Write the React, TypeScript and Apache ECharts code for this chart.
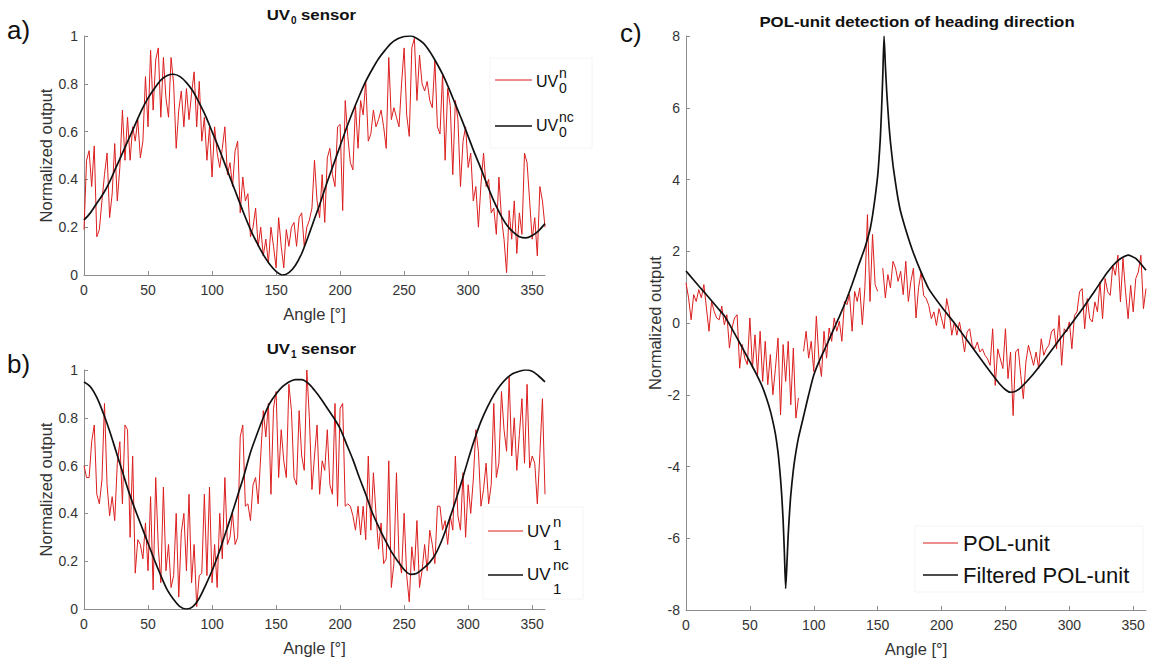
import React, { useEffect, useRef } from "react";
import * as echarts from "echarts";

const FONT = "'Liberation Sans', Arial, Helvetica, sans-serif";
const RED = "#dc1e1e";
const BLACK = "#111111";
const AXIS = "#8c8c8c";
const LABEL = "#333333";

// sample spacing of the noisy measurements (degrees)
const ANGLE_STEP = 2;

// a) UV0 sensor — noisy output (0°, 2°, 4° ... 360°)
const UV0_NOISY = [
  0.19, 0.48, 0.52, 0.37, 0.54, 0.16, 0.19, 0.31, 0.42, 0.51,
  0.24, 0.34, 0.55, 0.31, 0.45, 0.69, 0.48, 0.66, 0.48, 0.62,
  0.56, 0.65, 0.49, 0.56, 0.83, 0.62, 0.94, 0.69, 0.90, 0.95,
  0.66, 0.91, 0.74, 0.66, 0.91, 0.80, 0.53, 0.69, 0.77, 0.62,
  0.78, 0.65, 0.76, 0.85, 0.62, 0.81, 0.56, 0.66, 0.48, 0.62,
  0.41, 0.62, 0.51, 0.45, 0.53, 0.62, 0.42, 0.47, 0.37, 0.52,
  0.56, 0.26, 0.41, 0.31, 0.34, 0.16, 0.20, 0.28, 0.12, 0.20,
  0.08, 0.15, 0.05, 0.20, 0.12, 0.03, 0.24, 0.12, 0.03, 0.19,
  0.12, 0.20, 0.22, 0.12, 0.24, 0.26, 0.12, 0.20, 0.23, 0.28,
  0.48,
  0.31, 0.24, 0.42, 0.22, 0.49, 0.53, 0.42, 0.37, 0.62, 0.63,
  0.27, 0.73, 0.58, 0.47, 0.44, 0.71, 0.53, 0.73, 0.67, 0.81,
  0.56, 0.59, 0.69, 0.62, 0.65, 0.69, 0.62, 0.53, 0.91, 0.65,
  0.70, 0.66, 0.62, 0.80, 0.95, 0.67, 0.58, 0.95, 0.99, 0.73,
  0.92, 0.80, 0.77, 0.81, 0.73, 0.70, 0.90, 0.62, 0.59, 0.84,
  0.48, 0.78, 0.71, 0.42, 0.73, 0.65, 0.37, 0.56, 0.62, 0.45,
  0.51, 0.31, 0.37, 0.20, 0.38, 0.51, 0.37, 0.40, 0.26, 0.28,
  0.17, 0.41, 0.24, 0.15, 0.01, 0.27, 0.15, 0.31, 0.09, 0.26,
  0.17, 0.51, 0.47, 0.31, 0.15, 0.24, 0.08, 0.37, 0.31, 0.20,
];

// noise-free curves are read every 5°
const FIT_ANGLES = [
  0, 5, 10, 15, 20, 25, 30, 35, 40, 45, 50, 55, 60, 65, 70, 75, 80, 85, 90, 95,
  100, 105, 110, 115, 120, 125, 130, 135, 140, 145, 150, 155, 160, 165, 170, 175, 180, 185, 190, 195,
  200, 205, 210, 215, 220, 225, 230, 235, 240, 245, 250, 255, 260, 265, 270, 275, 280, 285, 290, 295,
  300, 305, 310, 315, 320, 325, 330, 335, 340, 345, 350, 355, 360,
];

// a) UV0 sensor — noise-free output
const UV0_FIT = [
  0.23, 0.26, 0.30, 0.34, 0.39, 0.45, 0.51, 0.57, 0.63, 0.69, 0.74, 0.78, 0.815, 0.835, 0.84, 0.83, 0.805, 0.77, 0.72, 0.665,
  0.60, 0.535, 0.465, 0.395, 0.325, 0.255, 0.19, 0.135, 0.085, 0.045, 0.015, 0.0, 0.01, 0.04, 0.09, 0.16, 0.235, 0.31, 0.39, 0.465,
  0.54, 0.615, 0.685, 0.75, 0.81, 0.86, 0.905, 0.94, 0.97, 0.988, 0.998, 1.0, 0.99, 0.97, 0.935, 0.89, 0.84, 0.78, 0.715, 0.65,
  0.58, 0.51, 0.445, 0.375, 0.31, 0.255, 0.21, 0.18, 0.16, 0.155, 0.165, 0.185, 0.215,
];

// b) UV1 sensor — noisy output
const UV1_NOISY = [
  0.60, 0.55, 0.55, 0.70, 0.77, 0.48, 0.44, 0.54, 0.86, 0.52,
  0.39, 0.47, 0.37, 0.61, 0.70, 0.44, 0.77, 0.75, 0.30, 0.64,
  0.15, 0.29, 0.27, 0.21, 0.36, 0.16, 0.47, 0.08, 0.55, 0.26,
  0.11, 0.51, 0.16, 0.27, 0.09, 0.14, 0.40, 0.05, 0.32, 0.40,
  0.16, 0.48, 0.11, 0.27, 0.01, 0.14, 0.15, 0.48, 0.14, 0.51,
  0.11, 0.27, 0.09, 0.40, 0.21, 0.55, 0.27, 0.30, 0.40, 0.27,
  0.30, 0.72, 0.77, 0.43, 0.44, 0.37, 0.52, 0.55, 0.44, 0.64,
  0.83, 0.72, 0.86, 0.48, 0.84, 0.91, 0.55, 0.75, 0.62, 0.55,
  0.94, 0.83, 0.55, 0.52, 0.83, 0.64, 0.58, 1.0, 0.80, 0.50,
  0.64,
  0.77, 0.48, 0.62, 0.58, 0.75, 0.52, 0.48, 0.86, 0.43, 0.84,
  0.86, 0.43, 0.44, 0.43, 0.39, 0.33, 0.43, 0.31, 0.43, 0.29,
  0.64, 0.33, 0.57, 0.40, 0.25, 0.36, 0.19, 0.21, 0.62, 0.09,
  0.19, 0.57, 0.21, 0.15, 0.40, 0.14, 0.03, 0.26, 0.16, 0.37,
  0.09, 0.16, 0.27, 0.16, 0.33, 0.27, 0.19, 0.43, 0.43, 0.33,
  0.37, 0.27, 0.39, 0.33, 0.64, 0.39, 0.33, 0.57, 0.30, 0.52,
  0.40, 0.54, 0.75, 0.66, 0.43, 0.50, 0.61, 0.44, 0.52, 0.86,
  0.55, 0.61, 0.91, 0.75, 0.66, 0.97, 0.64, 0.80, 0.58, 0.73,
  0.88, 0.61, 0.94, 0.59, 0.64, 0.61, 0.44, 0.65, 0.88, 0.48,
];

// b) UV1 sensor — noise-free output
const UV1_FIT = [
  0.95, 0.93, 0.885, 0.82, 0.745, 0.66, 0.575, 0.49, 0.415, 0.345, 0.275, 0.205, 0.14, 0.08, 0.04, 0.01, 0.0, 0.01, 0.045, 0.10,
  0.16, 0.23, 0.31, 0.39, 0.475, 0.56, 0.655, 0.73, 0.80, 0.86, 0.90, 0.93, 0.95, 0.96, 0.96, 0.945, 0.915, 0.88, 0.84, 0.80,
  0.755, 0.69, 0.625, 0.55, 0.48, 0.405, 0.345, 0.29, 0.24, 0.20, 0.165, 0.145, 0.15, 0.17, 0.195, 0.235, 0.295, 0.37, 0.45, 0.535,
  0.625, 0.71, 0.785, 0.845, 0.895, 0.935, 0.965, 0.985, 0.995, 1.0, 0.995, 0.975, 0.95,
];

// c) POL-unit — noisy output (null = gap in the record)
const POL_NOISY = [
  1.12, 0.70, 0.09, 0.79, 0.60, 0.93, 0.70, 1.07, 0.42, -0.23,
  0.60, 0.33, 0.14, 0.09, 0.47, -0.05, 0.23, -0.70, -0.14, 0.14,
  0.23, -1.26, -0.60, -0.98, -1.16, 0.14, -1.26, -0.33, -1.44, -0.23,
  -1.63, -0.51, -1.72, -0.88, -2.0, -1.26, -0.42, -2.56, -0.60, -1.63,
  -0.51, -2.28, -0.70, -2.65, -2.09, null, -0.79, -0.23, -0.98, -0.51,
  -1.35, 0.19, -0.98, -1.49, -0.23, -0.98, -0.14, -0.51, 0.14, -0.23,
  0.05, -0.51, 0.60, 0.51, 0.79, -0.23, 0.88, 0.60, 0.98, -0.05,
  0.98, 3.02, 0.60, 2.47, 1.07, 0.88, null, 1.53, 0.70, 1.35,
  0.98, 1.72, 1.53, 1.16, 1.44, 0.79, 1.72, 0.60, 1.16, 1.53,
  0.14, 0.98, 1.42, 0.77, 0.68, 0.49, 0.12, 0.31, -0.07, 0.40,
  0.12, -0.16, 0.68, 0.31, -0.34, 0.03, -0.34, 0.03, -0.34, -0.81,
  -0.25, -0.16, -0.62, -0.72, -0.53, -0.81, -0.72, -0.90, -1.0, -1.18,
  -0.16, -1.74, -0.72, -1.0, -1.27, -0.16, -1.55, -0.81, -2.58, -0.81,
  -0.72, -1.46, -2.11, -1.09, -0.62, -0.90, -1.18, -0.81, -1.27, -0.44,
  -0.90, -0.72, -0.62, -0.25, -0.16, -0.72, 0.21, -1.18, -0.16, -0.25,
  0.03, -0.72, 0.21, 0.31, 0.87, 0.96, -0.16, 0.68, 0.12, 0.03,
  0.59, 0.31, 1.14, 0.12, 1.24, 0.87, 0.77, 1.61, 1.33, 1.89,
  0.59, 1.80, 0.87, 0.12, 1.05, 0.31, 1.24, 1.42, 1.89, 0.40, 0.96,
];

// c) Filtered POL-unit (denser near the two cusps)
const POL_FIT_ANGLES = [
  0, 5, 10, 15, 20, 25, 30, 35, 40, 45, 50, 55, 60, 63, 66, 68, 70, 72, 73, 74,
  75, 76, 77, 78, 79, 80, 81, 82, 84, 86, 88, 90, 93, 96, 100, 105, 110, 115, 120, 125,
  130, 135, 140, 144, 146, 148, 150, 151, 152, 153, 154, 155, 156, 157, 158, 159, 160, 162, 164, 166,
  168, 172, 177, 183, 190, 200, 210, 220, 230, 240, 245, 250, 254, 258, 262, 270, 280, 290, 300, 310,
  320, 330, 338, 346, 352, 360,
];
const POL_FIT = [
  1.45, 1.24, 1.03, 0.83, 0.62, 0.41, 0.2, -0.1, -0.42, -0.75, -1.08, -1.42, -1.8, -2.1, -2.45, -2.75, -3.1, -3.6, -3.95, -4.35,
  -4.85, -5.5, -6.4, -7.4, -6.7, -5.9, -5.3, -4.8, -4.1, -3.6, -3.2, -2.9, -2.45, -2.0, -1.45, -1.0, -0.62, -0.22, 0.18, 0.6,
  1.08, 1.6, 2.1, 2.6, 3.0, 3.5, 4.1, 4.55, 5.1, 5.9, 6.9, 8.0, 7.2, 6.5, 5.95, 5.45, 5.05, 4.4, 3.9, 3.45,
  3.1, 2.6, 2.05, 1.5, 0.95, 0.45, 0.0, -0.48, -0.97, -1.45, -1.68, -1.86, -1.93, -1.9, -1.8, -1.5, -1.05, -0.57, -0.1, 0.38,
  0.9, 1.42, 1.74, 1.89, 1.8, 1.47,
];

const X_MIN = 0;
const X_MAX = 360;
const X_INTERVAL = 50;

const noisy = (vals: (number | null)[]) =>
  vals.map((v, i) => [i * ANGLE_STEP, v === null ? "-" : v]);
const zip = (xs: number[], ys: number[]) => xs.map((x, i) => [x, ys[i]]);

const xAxis = (gridIndex: number) => ({
  type: "value",
  gridIndex,
  min: X_MIN,
  max: X_MAX,
  interval: X_INTERVAL,
  name: "Angle [°]",
  nameLocation: "middle",
  nameGap: 30,
  nameTextStyle: { fontSize: 16.5, color: LABEL, fontFamily: FONT },
  axisLine: { show: true, onZero: false, lineStyle: { color: AXIS, width: 1 } },
  axisTick: { show: true, inside: true, length: 4, lineStyle: { color: AXIS } },
  axisLabel: { color: LABEL, fontSize: 14, fontFamily: FONT, margin: 8, showMaxLabel: false },
  splitLine: { show: false },
});

const yAxis = (gridIndex: number, min: number, max: number, interval: number, nameGap: number) => ({
  type: "value",
  gridIndex,
  min,
  max,
  interval,
  name: "Normalized output",
  nameLocation: "middle",
  nameRotate: 90,
  nameGap,
  nameTextStyle: { fontSize: 16.5, color: LABEL, fontFamily: FONT },
  axisLine: { show: true, onZero: false, lineStyle: { color: AXIS, width: 1 } },
  axisTick: { show: true, inside: true, length: 4, lineStyle: { color: AXIS } },
  axisLabel: { color: LABEL, fontSize: 14, fontFamily: FONT, margin: 6 },
  splitLine: { show: false },
});

const lineSeries = (name: string, data: any[], idx: number, color: string, width: number, smooth: any) => ({
  name,
  type: "line",
  xAxisIndex: idx,
  yAxisIndex: idx,
  data,
  showSymbol: false,
  symbol: "none",
  smooth,
  lineStyle: { color, width },
  itemStyle: { color },
  z: color === RED ? 2 : 3,
});

const text = (
  t: string,
  x: number,
  y: number,
  size: number,
  opts: { weight?: string; align?: string; scaleX?: number; fill?: string } = {}
) => ({
  type: "text",
  x,
  y,
  z: 100,
  scaleX: opts.scaleX ?? 1,
  style: {
    text: t,
    font: `${opts.weight ?? "normal"} ${size}px ${FONT}`,
    fill: opts.fill ?? BLACK,
    textAlign: opts.align ?? "left",
    align: opts.align ?? "left",
    textVerticalAlign: "middle",
    verticalAlign: "middle",
  },
});

const seg = (x1: number, y1: number, x2: number, y2: number, stroke: string, lineWidth: number) => ({
  type: "line",
  z: 100,
  shape: { x1, y1, x2, y2 },
  style: { stroke, lineWidth },
});

const box = (x: number, y: number, width: number, height: number) => ({
  type: "rect",
  z: 99,
  shape: { x, y, width, height },
  style: { fill: "#ffffff", stroke: "#f4f4f4", lineWidth: 1 },
});

export default function App() {
  const ref = useRef<HTMLDivElement>(null);

  useEffect(() => {
    if (!ref.current) return;
    const chart = echarts.init(ref.current, undefined, { renderer: "svg" });

    const graphic: any[] = [
      // panel letters
      text("a)", 7, 30, 26),
      text("b)", 7, 364, 26),
      text("c)", 620, 33, 26),
      // titles
      text("UV", 290, 15, 14, { weight: "bold", align: "right", scaleX: 1.2 }),
      text("0", 291, 20, 10, { weight: "bold" }),
      text("sensor", 301, 15, 14, { weight: "bold", scaleX: 1.2 }),
      text("UV", 290, 349, 14, { weight: "bold", align: "right", scaleX: 1.2 }),
      text("1", 291, 354, 10, { weight: "bold" }),
      text("sensor", 301, 349, 14, { weight: "bold", scaleX: 1.2 }),
      text("POL-unit detection of heading direction", 917, 22, 14, { weight: "bold", align: "center", scaleX: 1.2 }),
      // legend a
      box(490, 58, 102, 90),
      seg(495, 80, 532, 80, RED, 1),
      text("UV", 536, 81.5, 16),
      text("n", 559, 73, 14),
      text("0", 559, 88, 14),
      seg(495, 126, 532, 126, BLACK, 1.6),
      text("UV", 536, 125, 16),
      text("nc", 559, 117, 14),
      text("0", 559, 132, 14),
      // legend b
      box(483, 507, 100, 92),
      seg(488, 531, 523, 531, RED, 1),
      text("UV", 527, 531, 17),
      text("n", 553, 521, 15),
      text("1", 553, 544, 15),
      seg(488, 575, 523, 575, BLACK, 1.6),
      text("UV", 527, 574, 17),
      text("nc", 553, 564, 15),
      text("1", 553, 588, 15),
      // legend c
      box(915, 526, 228, 66),
      seg(923, 543, 958, 543, RED, 1),
      text("POL-unit", 963, 543, 22),
      seg(923, 575, 958, 575, BLACK, 1.6),
      text("Filtered POL-unit", 963, 575, 22),
    ];

    chart.setOption({
      animation: false,
      backgroundColor: "#ffffff",
      grid: [
        { left: 84, top: 36, width: 461, height: 239 },
        { left: 84, top: 370, width: 461, height: 239 },
        { left: 686, top: 36, width: 460, height: 574 },
      ],
      xAxis: [xAxis(0), xAxis(1), xAxis(2)],
      yAxis: [yAxis(0, 0, 1, 0.2, 30), yAxis(1, 0, 1, 0.2, 30), yAxis(2, -8, 8, 2, 22)],
      series: [
        lineSeries("UV0 n", noisy(UV0_NOISY), 0, RED, 1, false),
        lineSeries("UV0 nc", zip(FIT_ANGLES, UV0_FIT), 0, BLACK, 1.7, 0.3),
        lineSeries("UV1 n", noisy(UV1_NOISY), 1, RED, 1, false),
        lineSeries("UV1 nc", zip(FIT_ANGLES, UV1_FIT), 1, BLACK, 1.7, 0.3),
        lineSeries("POL-unit", noisy(POL_NOISY), 2, RED, 1, false),
        lineSeries("Filtered POL-unit", zip(POL_FIT_ANGLES, POL_FIT), 2, BLACK, 1.7, 0.2),
      ],
      graphic,
    });

    return () => chart.dispose();
  }, []);

  return (
    <div
      ref={ref}
      style={{ position: "absolute", left: 0, top: 0, width: 1154, height: 662, background: "#fff" }}
    />
  );
}
